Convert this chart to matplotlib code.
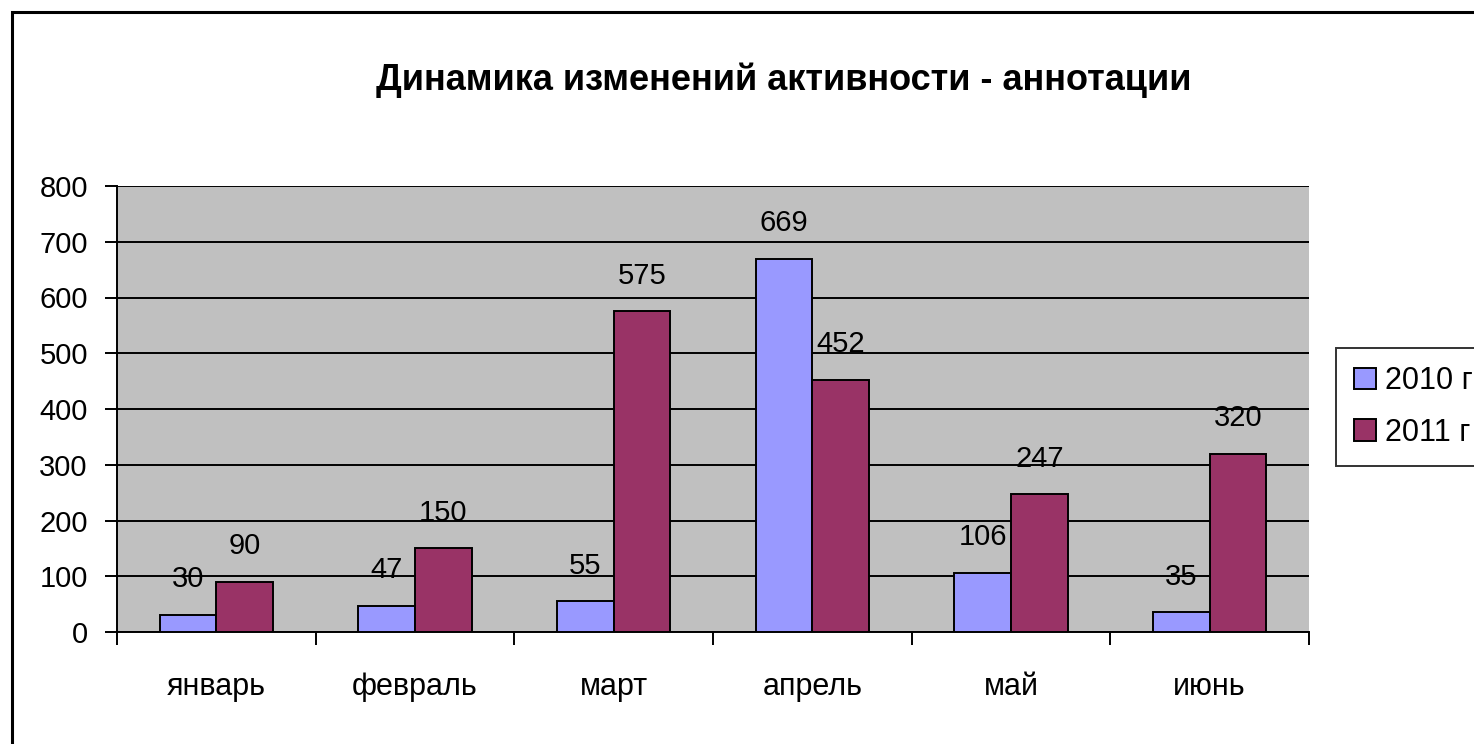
import matplotlib.pyplot as plt
import matplotlib.patches as patches
import numpy as np

# data
months = ['январь', 'февраль', 'март', 'апрель', 'май', 'июнь']
vals_2010 = [30, 47, 55, 669, 106, 35]
vals_2011 = [90, 150, 575, 452, 247, 320]
y_ticks = [0, 100, 200, 300, 400, 500, 600, 700, 800]

plt.rcParams['font.family'] = ['Liberation Sans', 'DejaVu Sans']

fig = plt.figure(figsize=(14.74, 7.44), dpi=100)

# outer chart frame (cut off at right/bottom like the screenshot)
frame = patches.Rectangle((12 / 1474, -0.05), 1.1, 1 - 12 / 744 + 0.05,
                          transform=fig.transFigure, fill=False,
                          edgecolor='black', linewidth=2.2, clip_on=False)
fig.add_artist(frame)

ax = fig.add_axes([117 / 1474, 112 / 744, (1309 - 117) / 1474, (632 - 186) / 744])
ax.set_facecolor('#C0C0C0')

x = np.arange(len(months))
w = 1 / 3.5
b1 = ax.bar(x - w / 2, vals_2010, w, color='#9999FF', edgecolor='black',
            linewidth=1.4, label='2010 г', zorder=3)
b2 = ax.bar(x + w / 2, vals_2011, w, color='#993366', edgecolor='black',
            linewidth=1.4, label='2011 г', zorder=3)

# data labels above bars
for bars, vals in [(b1, vals_2010), (b2, vals_2011)]:
    for rect, v in zip(bars, vals):
        ax.annotate(str(v), (rect.get_x() + rect.get_width() / 2, v),
                    xytext=(0, 20), textcoords='offset points',
                    ha='center', va='baseline', fontsize=21, zorder=4)

ax.set_xlim(-0.5, len(months) - 0.5)
ax.set_ylim(0, 800)
ax.set_yticks(y_ticks)
ax.yaxis.grid(True, color='black', linewidth=1.4, zorder=1)
ax.set_axisbelow(True)

ax.set_xticks(x)
ax.set_xticklabels(months, fontsize=22)
ax.set_xticks(np.arange(-0.5, len(months)), minor=True)
ax.tick_params(axis='x', which='major', length=0, pad=29)
ax.tick_params(axis='x', which='minor', length=9, width=1.4, direction='out')
ax.tick_params(axis='y', length=9, width=1.4, direction='out', pad=12, labelsize=21)

for side in ['top', 'right']:
    ax.spines[side].set_visible(False)
ax.spines['left'].set_linewidth(1.4)
ax.spines['bottom'].set_linewidth(1.4)

fig.text(784 / 1474, 1 - 80 / 744, 'Динамика изменений активности - аннотации',
         ha='center', va='center', fontsize=26, fontweight='bold')

leg = fig.legend(handles=[b1, b2], loc='upper left',
                 bbox_to_anchor=(1336 / 1474, 1 - 348 / 744),
                 fontsize=22, frameon=True, fancybox=False, shadow=False,
                 handlelength=0.7, handleheight=0.7, handletextpad=0.3,
                 borderpad=0.6, labelspacing=0.7, borderaxespad=0)
leg.get_frame().set_edgecolor('black')
leg.get_frame().set_linewidth(1.4)

fig.savefig('out.png', dpi=100)
